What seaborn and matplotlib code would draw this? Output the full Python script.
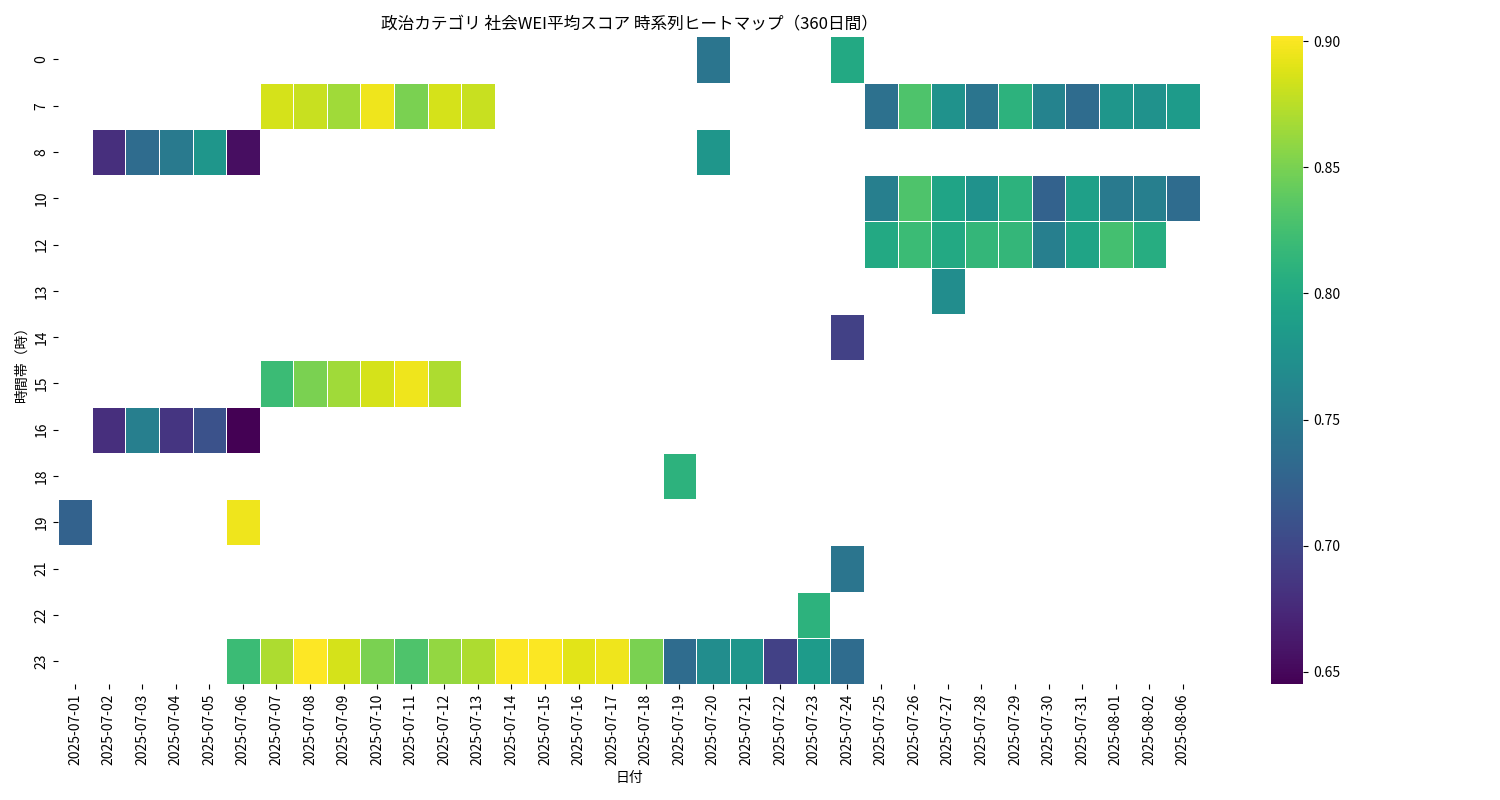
import matplotlib
matplotlib.use("Agg")
import matplotlib.pyplot as plt
import numpy as np
import pandas as pd
import seaborn as sns

plt.rcParams["font.family"] = "Noto Sans CJK JP"

dates = [f"2025-07-{d:02d}" for d in range(1, 32)] + ["2025-08-01", "2025-08-02", "2025-08-06"]
hours = [0, 7, 8, 10, 12, 13, 14, 15, 16, 18, 19, 21, 22, 23]

# one dict per hour row: date index -> score
row_0 = {19: 0.745, 23: 0.80}
row_7 = dict(zip(range(6, 13), [0.885, 0.88, 0.865, 0.895, 0.85, 0.885, 0.88]))
row_7.update(zip(range(24, 34), [0.74, 0.83, 0.775, 0.745, 0.81, 0.76, 0.735, 0.78, 0.775, 0.785]))
row_8 = {1: 0.68, 2: 0.735, 3: 0.75, 4: 0.78, 5: 0.655, 19: 0.78}
row_10 = dict(zip(range(24, 34), [0.755, 0.83, 0.795, 0.775, 0.81, 0.725, 0.79, 0.75, 0.755, 0.735]))
row_12 = dict(zip(range(24, 33), [0.80, 0.82, 0.80, 0.815, 0.815, 0.755, 0.795, 0.825, 0.805]))
row_13 = {26: 0.77}
row_14 = {23: 0.695}
row_15 = dict(zip(range(6, 12), [0.82, 0.85, 0.865, 0.885, 0.895, 0.87]))
row_16 = {1: 0.68, 2: 0.755, 3: 0.685, 4: 0.71, 5: 0.645}
row_18 = {18: 0.81}
row_19 = {0: 0.725, 5: 0.895}
row_21 = {23: 0.745}
row_22 = {22: 0.81}
row_23 = dict(zip(range(5, 24), [0.82, 0.87, 0.902, 0.885, 0.85, 0.83, 0.86, 0.87, 0.90, 0.90,
                                  0.89, 0.895, 0.85, 0.735, 0.77, 0.78, 0.695, 0.785, 0.735]))

rows = [row_0, row_7, row_8, row_10, row_12, row_13, row_14, row_15, row_16,
        row_18, row_19, row_21, row_22, row_23]

mat = np.full((len(hours), len(dates)), np.nan)
for i, r in enumerate(rows):
    for j, v in r.items():
        mat[i, j] = v
df = pd.DataFrame(mat, index=hours, columns=dates)

fig, ax = plt.subplots(figsize=(15, 8), dpi=100)
sns.heatmap(df, cmap="viridis", linewidths=0.5, linecolor="white", ax=ax)
ax.set_title("政治カテゴリ 社会WEI平均スコア 時系列ヒートマップ（360日間）")
ax.set_xlabel("日付")
ax.set_ylabel("時間帯（時）")
fig.tight_layout()
fig.savefig("out.png", dpi=100)
